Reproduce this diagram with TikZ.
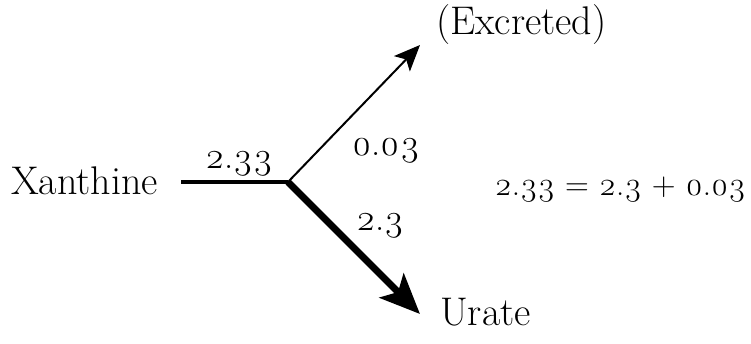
\documentclass[tikz,border=0pt]{standalone}
\usepackage{fontspec}
\setmainfont{Latin Modern Roman}[Numbers=OldStyle]
\usetikzlibrary{arrows.meta}
\begin{document}
\begin{tikzpicture}[x=1pt,y=-1pt,
  lbl/.style={anchor=base west,inner sep=0pt,font=\fontsize{40}{44}\selectfont},
  num/.style={anchor=base west,inner sep=0pt,font=\fontsize{37}{40}\selectfont},
  eqn/.style={anchor=base east,inner sep=0pt,font=\fontsize{33}{36}\selectfont}]
\useasboundingbox (0,0) rectangle (751,343);
\node[lbl] (xan) at (11,194) {Xanthine};
\node[lbl] (exc) at (436,34) {(Excreted)};
\node[lbl] (ura) at (440,325) {Urate};
\node[num] (l1) at (205,168) {2.33};
\node[num] (l2) at (352,155) {0.03};
\node[num] (l3) at (356,230) {2.3};
\node[eqn] (eq) at (746,195) {2.33 = 2.3 + 0.03};
\coordinate (s) at (181,182);
\coordinate (j) at (288,182);
\coordinate (t1) at (420,45);
\coordinate (t2) at (420,314);
\draw[line width=4.5pt] (s) -- (j);
\draw[line width=2pt,-{Stealth[length=26pt,width=22pt,inset=6pt]}] (j) -- (t1);
\draw[line width=7pt,line join=miter,-{Stealth[length=40pt,width=34pt,inset=9pt]}] (j) -- (t2);
\end{tikzpicture}
\end{document}
